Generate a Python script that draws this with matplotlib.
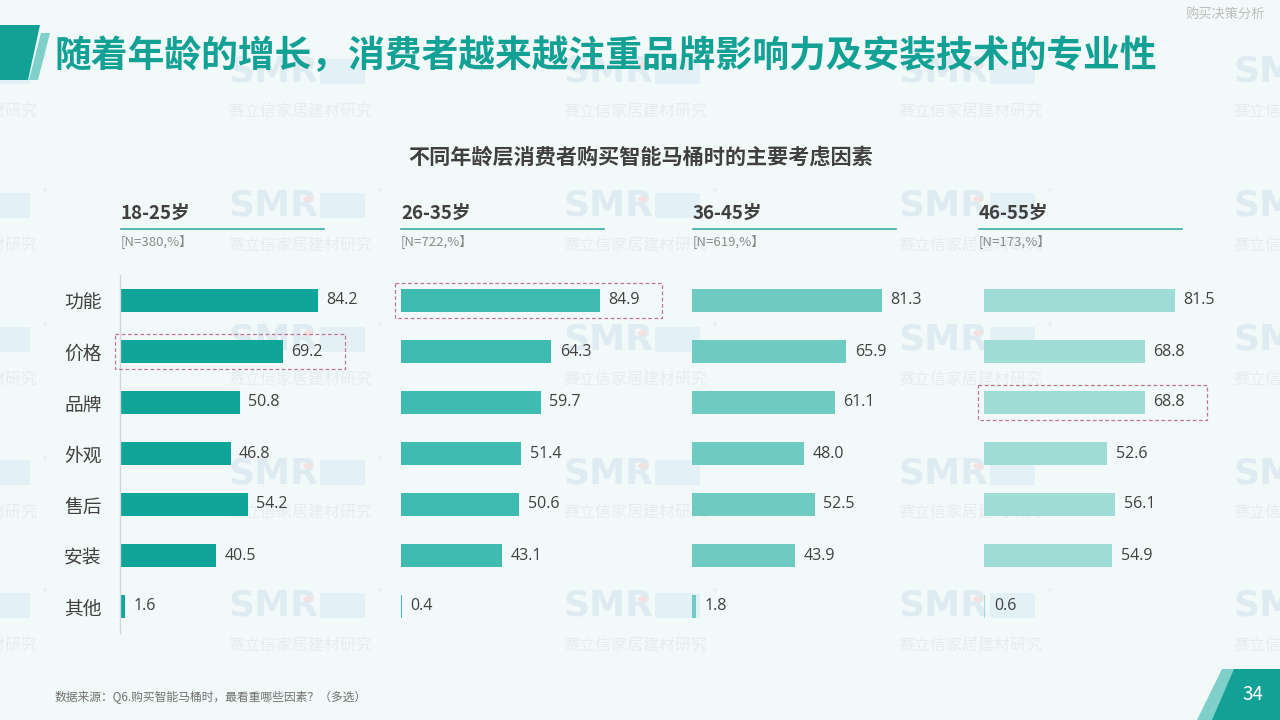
import matplotlib
matplotlib.use("Agg")
import matplotlib.pyplot as plt
from matplotlib.patches import Polygon, Rectangle, Circle
import numpy as np

plt.rcParams['font.family'] = ['Noto Sans CJK SC', 'DejaVu Sans']

# ---------------- data ----------------
categories = ['功能', '价格', '品牌', '外观', '售后', '安装', '其他']
age_groups = ['18-25岁', '26-35岁', '36-45岁', '46-55岁']
sample_notes = ['[N=380,%】', '[N=722,%】', '[N=619,%】', '[N=173,%】']
vals_18_25 = [84.2, 69.2, 50.8, 46.8, 54.2, 40.5, 1.6]
vals_26_35 = [84.9, 64.3, 59.7, 51.4, 50.6, 43.1, 0.4]
vals_36_45 = [81.3, 65.9, 61.1, 48.0, 52.5, 43.9, 1.8]
vals_46_55 = [81.5, 68.8, 68.8, 52.6, 56.1, 54.9, 0.6]
series = [vals_18_25, vals_26_35, vals_36_45, vals_46_55]
highlights = {0: 1, 1: 0, 3: 2}   # panel -> highlighted category index

title = '随着年龄的增长，消费者越来越注重品牌影响力及安装技术的专业性'
subtitle = '不同年龄层消费者购买智能马桶时的主要考虑因素'
section = '购买决策分析'
source = '数据来源：Q6.购买智能马桶时，最看重哪些因素？（多选）'
page_no = '34'

# ---------------- style ----------------
W, H = 1280, 720
bg = '#f2f9f9'
teal = '#13a196'
bar_colors = ['#0fa699', '#3fbbaf', '#6ecbc2', '#9fdcd6']

fig = plt.figure(figsize=(W / 100, H / 100), dpi=100, facecolor=bg)


def P(x, y):
    return (x / W, 1 - y / H)


# ---------------- watermarks ----------------
wm_cols = [-107, 228, 563, 898, 1233]
wm_rows = [112, 246, 380, 513, 646]
for wx in wm_cols:
    for ty in wm_rows:
        fig.patches.append(Rectangle(P(wx + 92, ty - 28), 45 / W, 25 / H,
                                     transform=fig.transFigure,
                                     facecolor='#e3f1f6', edgecolor='none', zorder=-3))
        fig.text(*P(wx, ty - 40), 'SMR', fontsize=26, fontweight='bold',
                 family='DejaVu Sans', color='#deebf0', ha='left', va='center', zorder=-2)
        fig.patches.append(Circle(P(wx + 80, ty - 47), 5 / W,
                                  transform=fig.transFigure,
                                  facecolor='#f4e2e2', edgecolor='none', zorder=-1))
        fig.text(*P(wx, ty), '赛立信家居建材研究', fontsize=11.5, color='#e5edef',
                 ha='left', va='center', zorder=-2)
        fig.text(*P(wx + 150, ty - 52), '®', fontsize=7, color='#e5edef',
                 ha='left', va='center', zorder=-2)

# ---------------- decorations ----------------
fig.patches.append(Polygon([P(41, 33), P(50, 33), P(38, 80), P(29, 80)], closed=True,
                           transform=fig.transFigure, facecolor='#7fd0c8', edgecolor='none'))
fig.patches.append(Polygon([P(0, 25), P(40, 25), P(28, 80), P(0, 80)], closed=True,
                           transform=fig.transFigure, facecolor=teal, edgecolor='none'))
fig.patches.append(Polygon([P(1222, 669), P(1240, 669), P(1215, 720), P(1197, 720)], closed=True,
                           transform=fig.transFigure, facecolor='#7fd0c8', edgecolor='none'))
fig.patches.append(Polygon([P(1234, 669), P(1280, 669), P(1280, 720), P(1212, 720)], closed=True,
                           transform=fig.transFigure, facecolor=teal, edgecolor='none'))
fig.text(*P(1253, 695), page_no, fontsize=13.5, color='white', ha='center', va='center')

fig.text(*P(54, 57), title, fontsize=26.5, fontweight='bold', color=teal,
         ha='left', va='center')
fig.text(*P(1265, 14), section, fontsize=9.5, color='#bdbdbd', ha='right', va='center')
fig.text(*P(641, 157), subtitle, fontsize=15.2, fontweight='bold', color='#404040',
         ha='center', va='center')
fig.text(*P(55, 697), source, fontsize=8.5, color='#707070', ha='left', va='center')

# ---------------- panels ----------------
bar_x0 = [121, 401, 692, 984]
head_x0 = [121, 401, 693, 979]
px_per_unit = 2.34
ax_w = 260
top, bottom = 275, 632

for p in range(4):
    ax = fig.add_axes([bar_x0[p] / W, 1 - bottom / H, ax_w / W, (bottom - top) / H])
    ax.set_facecolor('none')
    vals = series[p]
    y = np.arange(len(categories))
    ax.barh(y, vals, height=0.47, color=bar_colors[p], zorder=2)
    for yi, v in zip(y, vals):
        ax.text(v + 3.6, yi, f'{v:.1f}', fontsize=11.5, color='#404040',
                ha='left', va='center', family=['Open Sans', 'DejaVu Sans'])
    ax.set_xlim(0, ax_w / px_per_unit)
    ax.set_ylim(len(categories) - 0.5, -0.5)
    for s in ax.spines.values():
        s.set_visible(False)
    ax.set_xticks([])
    if p == 0:
        ax.set_yticks(y)
        ax.set_yticklabels(categories, fontsize=13.5, color='#404040')
        ax.tick_params(axis='y', length=0, pad=14)
        ax.axvline(-0.4, ymin=-0.003, ymax=1.0, color='#cfd8d8', lw=1, clip_on=False)
    else:
        ax.set_yticks([])
    if p in highlights:
        ci = highlights[p]
        x_left = -2.6
        x_right = vals[ci] + 26.5
        ax.add_patch(Rectangle((x_left, ci - 0.35), x_right - x_left, 0.7,
                               fill=False, edgecolor='#c2758f', lw=0.9,
                               linestyle=(0, (3, 2)), clip_on=False, zorder=3))

    hx = head_x0[p]
    fig.text(*P(hx, 213), age_groups[p], fontsize=13.5, fontweight='bold',
             color='#404040', ha='left', va='center')
    fig.add_artist(plt.Line2D([hx / W, (hx + 203) / W], [1 - 229 / H, 1 - 229 / H],
                              transform=fig.transFigure, color='#3aaea4', lw=1.2))
    fig.text(*P(hx, 241), sample_notes[p], fontsize=9.5, color='#8a8a8a',
             ha='left', va='center')

fig.savefig('out.png', dpi=100, facecolor=bg)
